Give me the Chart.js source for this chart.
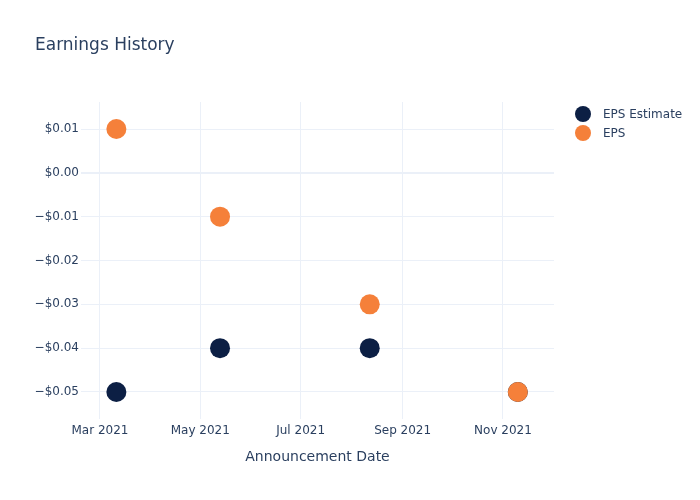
<!DOCTYPE html>
<html>
<head>
<meta charset="utf-8">
<script src="https://cdn.jsdelivr.net/npm/chart.js@4"></script>
<style>
  html, body { margin: 0; padding: 0; background: #fff; }
  #wrap { width: 700px; height: 500px; position: relative; }
</style>
</head>
<body>
<div id="wrap"><canvas id="epsChart" width="700" height="500"></canvas></div>
<script>
// data
var announceDates = ['2021-03-11', '2021-05-13', '2021-08-12', '2021-11-10'];
var epsEstimate = [-0.05, -0.04, -0.04, -0.05];
var epsActual = [0.01, -0.01, -0.03, -0.05];
var xTickDates = ['2021-03-01', '2021-05-01', '2021-07-01', '2021-09-01', '2021-11-01'];
var xTickLabels = ['Mar 2021', 'May 2021', 'Jul 2021', 'Sep 2021', 'Nov 2021'];
var yTicks = [0.01, 0, -0.01, -0.02, -0.03, -0.04, -0.05];

var NAVY = '#0c1f44';
var ORANGE = '#f5803a';
var TEXT = '#2a3f5f';
var GRID = '#ebf0f8';
var FONT = '"DejaVu Sans", Verdana, sans-serif';

function toPoints(values) {
    return values.map(function (v, i) {
        return { x: Date.parse(announceDates[i]), y: v };
    });
}

function fmtMoney(v) {
    var s = '$' + Math.abs(v).toFixed(2);
    return v < -1e-9 ? '\u2212' + s : s;
}

// title + legend drawn on the canvas
var decorPlugin = {
    id: 'decor',
    afterDraw: function (chart) {
        var ctx = chart.ctx;
        ctx.save();
        ctx.fillStyle = TEXT;
        ctx.font = '17px ' + FONT;
        ctx.textBaseline = 'alphabetic';
        ctx.textAlign = 'left';
        ctx.fillText('Earnings History', 35, 50);

        var items = [
            { label: 'EPS Estimate', color: NAVY },
            { label: 'EPS', color: ORANGE }
        ];
        ctx.font = '12px ' + FONT;
        ctx.textBaseline = 'middle';
        items.forEach(function (it, i) {
            var y = 114 + i * 19;
            ctx.beginPath();
            ctx.arc(583, y, 8, 0, Math.PI * 2);
            ctx.fillStyle = it.color;
            ctx.fill();
            ctx.fillStyle = TEXT;
            ctx.fillText(it.label, 603, y + 1);
        });
        ctx.restore();
    }
};

var ctx = document.getElementById('epsChart').getContext('2d');
var epsChart = new Chart(ctx, {
    type: 'scatter',
    data: {
        datasets: [{
            label: 'EPS Estimate',
            data: toPoints(epsEstimate),
            backgroundColor: NAVY,
            borderColor: NAVY,
            borderWidth: 0,
            pointRadius: 10,
            order: 1
        }, {
            label: 'EPS',
            data: toPoints(epsActual),
            backgroundColor: ORANGE,
            borderColor: ORANGE,
            borderWidth: 0,
            pointRadius: 10,
            order: 0
        }]
    },
    options: {
        responsive: false,
        animation: false,
        layout: { padding: { left: 1, right: 146, top: 102, bottom: 0 } },
        plugins: {
            legend: { display: false },
            title: { display: false },
            tooltip: { enabled: false }
        },
        scales: {
            x: {
                type: 'linear',
                min: Date.UTC(2021, 1, 17, 12),
                max: Date.UTC(2021, 11, 2),
                afterBuildTicks: function (axis) {
                    axis.ticks = xTickDates.map(function (d) { return { value: Date.parse(d) }; });
                },
                afterFit: function (axis) { axis.height = 81; },
                grid: { color: GRID, lineWidth: 1, drawTicks: false },
                border: { display: false },
                ticks: {
                    color: TEXT,
                    font: { family: FONT, size: 12 },
                    padding: 5,
                    maxRotation: 0,
                    autoSkip: false,
                    callback: function (value) {
                        var i = xTickDates.map(function (d) { return Date.parse(d); }).indexOf(value);
                        return i >= 0 ? xTickLabels[i] : '';
                    }
                },
                title: {
                    display: true,
                    text: 'Announcement Date',
                    color: TEXT,
                    font: { family: FONT, size: 14 },
                    padding: { top: 4, bottom: 34 }
                }
            },
            y: {
                min: -0.05616,
                max: 0.01616,
                afterBuildTicks: function (axis) {
                    axis.ticks = yTicks.map(function (v) { return { value: v }; });
                },
                afterFit: function (axis) { axis.width = 80; },
                grid: {
                    color: GRID,
                    drawTicks: false,
                    lineWidth: function (c) {
                        return c.tick && Math.abs(c.tick.value) < 1e-9 ? 2 : 1;
                    }
                },
                border: { display: false },
                ticks: {
                    color: TEXT,
                    font: { family: FONT, size: 12 },
                    padding: 2,
                    callback: function (value) { return fmtMoney(value); }
                }
            }
        }
    },
    plugins: [decorPlugin]
});
</script>
</body>
</html>
